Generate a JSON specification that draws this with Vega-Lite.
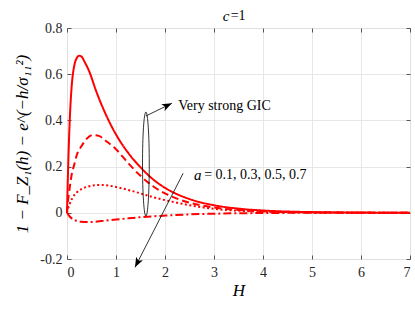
{
  "$schema": "https://vega.github.io/schema/vega-lite/v6.json",
  "width": 343,
  "height": 231,
  "autosize": {"type": "none"},
  "padding": {"left": 67, "top": 28, "right": 5, "bottom": 50},
  "config": {
    "font": "Liberation Serif",
    "view": {"stroke": "#555555", "strokeWidth": 1},
    "axis": {
      "labelFont": "Liberation Serif",
      "labelFontSize": 14,
      "labelColor": "#262626",
      "titleFont": "Liberation Serif",
      "titleColor": "#000000",
      "titleFontWeight": "normal",
      "domain": false,
      "tickColor": "#555555",
      "tickSize": -4,
      "gridColor": "#e6e6e6",
      "gridWidth": 0.8
    },
    "text": {"font": "Liberation Serif"}
  },
  "datasets": {
    "curves": [
      {"H": 0, "v": 0, "a": "0.1"}, {"H": 0.01, "v": 0.09, "a": "0.1"}, {"H": 0.02, "v": 0.17, "a": "0.1"}, {"H": 0.04, "v": 0.31, "a": "0.1"}, {"H": 0.06, "v": 0.42, "a": "0.1"}, {"H": 0.08, "v": 0.5, "a": "0.1"}, {"H": 0.1, "v": 0.56, "a": "0.1"}, {"H": 0.13, "v": 0.615, "a": "0.1"}, {"H": 0.16, "v": 0.648, "a": "0.1"}, {"H": 0.2, "v": 0.67, "a": "0.1"}, {"H": 0.25, "v": 0.68, "a": "0.1"}, {"H": 0.3, "v": 0.676, "a": "0.1"}, {"H": 0.35, "v": 0.657, "a": "0.1"}, {"H": 0.45, "v": 0.614, "a": "0.1"}, {"H": 0.6, "v": 0.524, "a": "0.1"}, {"H": 0.8, "v": 0.422, "a": "0.1"}, {"H": 1.0, "v": 0.339, "a": "0.1"}, {"H": 1.25, "v": 0.259, "a": "0.1"}, {"H": 1.5, "v": 0.197, "a": "0.1"}, {"H": 1.75, "v": 0.146, "a": "0.1"}, {"H": 2.0, "v": 0.108, "a": "0.1"}, {"H": 2.5, "v": 0.0595, "a": "0.1"}, {"H": 3.0, "v": 0.0327, "a": "0.1"}, {"H": 3.5, "v": 0.018, "a": "0.1"}, {"H": 4.0, "v": 0.0099, "a": "0.1"}, {"H": 4.5, "v": 0.0054, "a": "0.1"}, {"H": 5.0, "v": 0.003, "a": "0.1"}, {"H": 6.0, "v": 0.001, "a": "0.1"}, {"H": 7.0, "v": 0.0003, "a": "0.1"},
      {"H": 0, "v": 0, "a": "0.3"}, {"H": 0.02, "v": 0.05, "a": "0.3"}, {"H": 0.05, "v": 0.1, "a": "0.3"}, {"H": 0.1, "v": 0.17, "a": "0.3"}, {"H": 0.15, "v": 0.21, "a": "0.3"}, {"H": 0.2, "v": 0.25, "a": "0.3"}, {"H": 0.3, "v": 0.29, "a": "0.3"}, {"H": 0.4, "v": 0.32, "a": "0.3"}, {"H": 0.53, "v": 0.337, "a": "0.3"}, {"H": 0.65, "v": 0.333, "a": "0.3"}, {"H": 0.8, "v": 0.31, "a": "0.3"}, {"H": 1.0, "v": 0.275, "a": "0.3"}, {"H": 1.25, "v": 0.215, "a": "0.3"}, {"H": 1.5, "v": 0.16, "a": "0.3"}, {"H": 1.75, "v": 0.116, "a": "0.3"}, {"H": 2.0, "v": 0.084, "a": "0.3"}, {"H": 2.5, "v": 0.044, "a": "0.3"}, {"H": 3.0, "v": 0.023, "a": "0.3"}, {"H": 3.5, "v": 0.012, "a": "0.3"}, {"H": 4.0, "v": 0.006, "a": "0.3"}, {"H": 4.5, "v": 0.003, "a": "0.3"}, {"H": 5.0, "v": 0.0016, "a": "0.3"}, {"H": 6.0, "v": 0.0005, "a": "0.3"}, {"H": 7.0, "v": 0, "a": "0.3"},
      {"H": 0, "v": 0, "a": "0.5"}, {"H": 0.02, "v": 0.018, "a": "0.5"}, {"H": 0.05, "v": 0.035, "a": "0.5"}, {"H": 0.1, "v": 0.06, "a": "0.5"}, {"H": 0.2, "v": 0.088, "a": "0.5"}, {"H": 0.3, "v": 0.103, "a": "0.5"}, {"H": 0.45, "v": 0.115, "a": "0.5"}, {"H": 0.6, "v": 0.12, "a": "0.5"}, {"H": 0.75, "v": 0.12, "a": "0.5"}, {"H": 0.9, "v": 0.116, "a": "0.5"}, {"H": 1.0, "v": 0.112, "a": "0.5"}, {"H": 1.25, "v": 0.099, "a": "0.5"}, {"H": 1.5, "v": 0.084, "a": "0.5"}, {"H": 1.75, "v": 0.068, "a": "0.5"}, {"H": 2.0, "v": 0.055, "a": "0.5"}, {"H": 2.5, "v": 0.033, "a": "0.5"}, {"H": 3.0, "v": 0.017, "a": "0.5"}, {"H": 3.5, "v": 0.009, "a": "0.5"}, {"H": 4.0, "v": 0.005, "a": "0.5"}, {"H": 4.5, "v": 0.003, "a": "0.5"}, {"H": 5.0, "v": 0.0015, "a": "0.5"}, {"H": 6.0, "v": 0.0005, "a": "0.5"}, {"H": 7.0, "v": 0, "a": "0.5"},
      {"H": 0, "v": 0, "a": "0.7"}, {"H": 0.05, "v": -0.015, "a": "0.7"}, {"H": 0.1, "v": -0.025, "a": "0.7"}, {"H": 0.2, "v": -0.035, "a": "0.7"}, {"H": 0.3, "v": -0.039, "a": "0.7"}, {"H": 0.4, "v": -0.04, "a": "0.7"}, {"H": 0.55, "v": -0.039, "a": "0.7"}, {"H": 0.7, "v": -0.036, "a": "0.7"}, {"H": 1.0, "v": -0.029, "a": "0.7"}, {"H": 1.25, "v": -0.024, "a": "0.7"}, {"H": 1.5, "v": -0.019, "a": "0.7"}, {"H": 2.0, "v": -0.012, "a": "0.7"}, {"H": 2.5, "v": -0.007, "a": "0.7"}, {"H": 3.0, "v": -0.004, "a": "0.7"}, {"H": 3.5, "v": -0.002, "a": "0.7"}, {"H": 4.0, "v": -0.001, "a": "0.7"}, {"H": 5.0, "v": 0, "a": "0.7"}, {"H": 6.0, "v": 0, "a": "0.7"}, {"H": 7.0, "v": 0, "a": "0.7"}
    ],
    "ellipse": [{"H": 1.61, "v": 0.211}],
    "arrows": [
      {"H": 1.61, "v": 0.419, "id": "a1"}, {"H": 2.14, "v": 0.474, "id": "a1"},
      {"H": 2.37, "v": 0.171, "id": "a2"}, {"H": 1.388, "v": -0.236, "id": "a2"}
    ],
    "heads": [
      {"H": 2.14, "v": 0.474, "id": "a1"},
      {"H": 1.388, "v": -0.236, "id": "a2"}
    ],
    "labels": [
      {"H": 2.27, "v": 0.462, "t": "Very strong GIC", "k": "plain"},
      {"H": 2.59, "v": 0.164, "t": "a", "k": "ital"},
      {"H": 2.8, "v": 0.164, "t": "= 0.1, 0.3, 0.5, 0.7", "k": "plain"},
      {"H": 3.18, "v": 0.853, "t": "c", "k": "ital"},
      {"H": 3.34, "v": 0.853, "t": "=1", "k": "plain"}
    ]
  },
  "resolve": {"axis": {"x": "independent", "y": "independent"}},
  "layer": [
    {
      "data": {"name": "curves"},
      "mark": {"type": "line", "color": "#ff0000", "strokeWidth": 2, "interpolate": "monotone"},
      "encoding": {
        "x": {"field": "H", "type": "quantitative", "scale": {"domain": [0, 7], "nice": false, "zero": false},
              "axis": {"orient": "bottom", "values": [0, 1, 2, 3, 4, 5, 6, 7], "title": "H", "titleFont": "Liberation Serif", "titleFontStyle": "italic", "titleFontWeight": "normal", "titleFontSize": 17, "titlePadding": 3, "labelFont": "Liberation Serif", "labelFontSize": 14, "labelPadding": 10}},
        "y": {"field": "v", "type": "quantitative", "scale": {"domain": [-0.2, 0.8], "nice": false, "zero": false},
              "axis": {"orient": "left", "values": [-0.2, 0, 0.2, 0.4, 0.6, 0.8], "labelExpr": "datum.value == 0 ? '0' : (datum.value < 0 ? '-' + format(-datum.value, '.1f') : format(datum.value, '.1f'))", "title": "1 − F_Z₁(h) − e^(−h/σ₁₁²)", "titleFont": "Liberation Serif", "titleFontStyle": "italic", "titleFontWeight": "normal", "titleFontSize": 17, "titlePadding": 8, "labelFont": "Liberation Serif", "labelFontSize": 14, "labelPadding": 9}},
        "strokeDash": {"field": "a", "type": "nominal", "legend": null,
                       "scale": {"domain": ["0.1", "0.3", "0.5", "0.7"], "range": [[1, 0], [7, 4], [2, 2.5], [8, 3, 2, 3]]}},
        "detail": {"field": "a"}
      }
    },
    {
      "data": {"name": "ellipse"},
      "mark": {"type": "point", "shape": "M0,-1 A0.065,1 0 1,1 0,1 A0.065,1 0 1,1 0,-1 Z", "size": 10816, "filled": false, "stroke": "#000000", "strokeWidth": 0.8, "opacity": 1},
      "encoding": {
        "x": {"field": "H", "type": "quantitative", "axis": {"orient": "top", "values": [0, 1, 2, 3, 4, 5, 6, 7], "labels": false, "grid": true, "title": null}},
        "y": {"field": "v", "type": "quantitative", "axis": {"orient": "right", "values": [-0.2, 0, 0.2, 0.4, 0.6, 0.8], "labels": false, "grid": true, "title": null}}
      }
    },
    {
      "data": {"name": "arrows"},
      "mark": {"type": "line", "color": "#000000", "strokeWidth": 0.8, "clip": false},
      "encoding": {
        "x": {"field": "H", "type": "quantitative", "axis": null},
        "y": {"field": "v", "type": "quantitative", "axis": null},
        "detail": {"field": "id"}
      }
    },
    {
      "data": {"name": "heads"},
      "transform": [{"filter": "datum.id == 'a1'"}],
      "mark": {"type": "point", "shape": "M0,0 L0.38,1 L0,0.75 L-0.38,1 Z", "size": 400, "filled": true, "color": "#000000", "opacity": 1, "angle": 64, "clip": false},
      "encoding": {
        "x": {"field": "H", "type": "quantitative", "axis": null},
        "y": {"field": "v", "type": "quantitative", "axis": null}
      }
    },
    {
      "data": {"name": "heads"},
      "transform": [{"filter": "datum.id == 'a2'"}],
      "mark": {"type": "point", "shape": "M0,0 L0.38,1 L0,0.75 L-0.38,1 Z", "size": 400, "filled": true, "color": "#000000", "opacity": 1, "angle": 207, "clip": false},
      "encoding": {
        "x": {"field": "H", "type": "quantitative", "axis": null},
        "y": {"field": "v", "type": "quantitative", "axis": null}
      }
    },
    {
      "data": {"name": "labels"},
      "transform": [{"filter": "datum.k == 'plain'"}],
      "mark": {"type": "text", "align": "left", "baseline": "middle", "fontSize": 14, "font": "Liberation Serif", "color": "#000000", "clip": false},
      "encoding": {
        "x": {"field": "H", "type": "quantitative", "axis": null},
        "y": {"field": "v", "type": "quantitative", "axis": null},
        "text": {"field": "t"}
      }
    },
    {
      "data": {"name": "labels"},
      "transform": [{"filter": "datum.k == 'ital'"}],
      "mark": {"type": "text", "align": "left", "baseline": "middle", "fontSize": 15, "fontStyle": "italic", "font": "Liberation Serif", "color": "#000000", "clip": false},
      "encoding": {
        "x": {"field": "H", "type": "quantitative", "axis": null},
        "y": {"field": "v", "type": "quantitative", "axis": null},
        "text": {"field": "t"}
      }
    }
  ]
}
